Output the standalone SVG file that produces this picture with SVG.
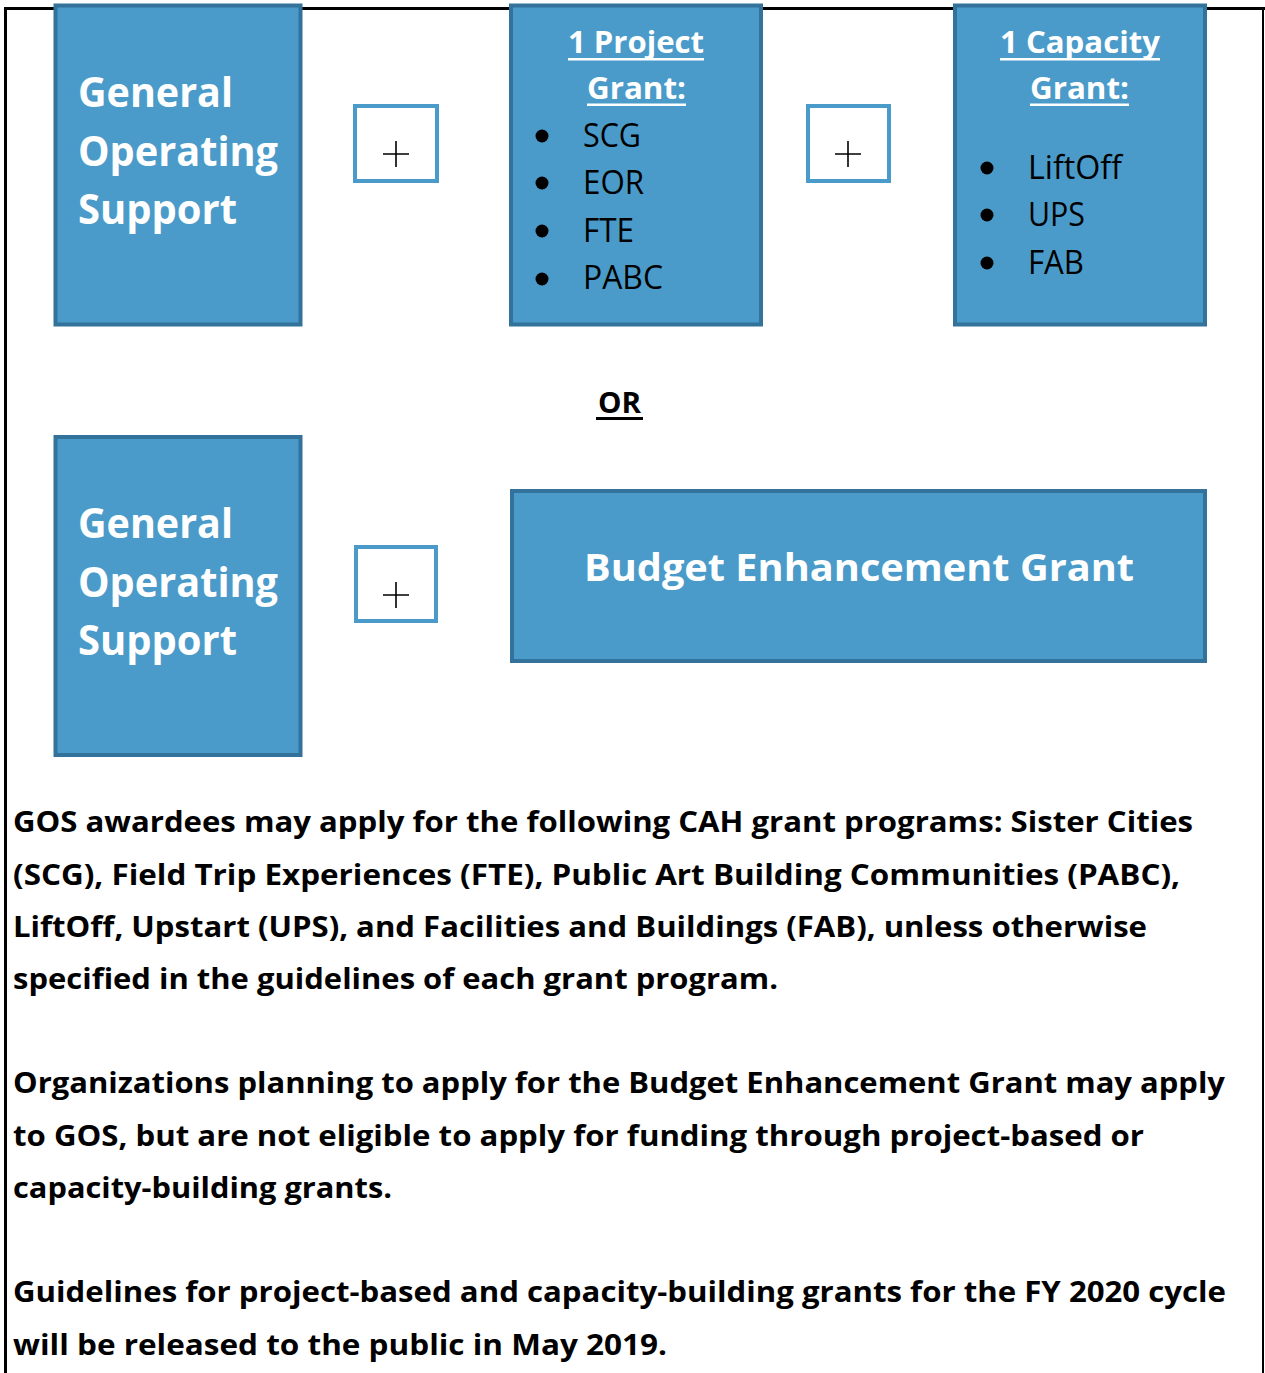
<svg xmlns="http://www.w3.org/2000/svg" width="1265" height="1373" viewBox="0 0 1265 1373">
<style>
.box{fill:#4A9BC9;stroke:#33729A;stroke-width:4}
.plusbox{fill:#ffffff;stroke:#4A9BC9;stroke-width:4}
.plus{stroke:#000;stroke-width:1.6;fill:none}
.frame{stroke:#000;fill:none}
.big{font-family:'Open Sans','Liberation Sans',sans-serif;font-weight:700;font-size:42px;fill:#fff}
.title{font-family:'Open Sans','Liberation Sans',sans-serif;font-weight:700;font-size:30px;fill:#fff}
.item{font-family:'Open Sans','Liberation Sans',sans-serif;font-weight:400;font-size:33px;fill:#000}
.beg{font-family:'Open Sans','Liberation Sans',sans-serif;font-weight:700;font-size:38px;fill:#fff}
.para{font-family:'Open Sans','Liberation Sans',sans-serif;font-weight:700;font-size:29px;fill:#000}
.ul{fill:#fff}
</style>
<rect width="1265" height="1373" fill="#fff"/>
<g id="frame">
<line class="frame" x1="4" y1="8.5" x2="1265" y2="8.5" stroke-width="3"/>
<line class="frame" x1="5.5" y1="7" x2="5.5" y2="1373" stroke-width="3"/>
<line class="frame" x1="1263" y1="7" x2="1263" y2="1373" stroke-width="2"/>
</g>
<g id="connectors"></g>
<g id="gos-top">
<rect class="box" x="55.5" y="5.5" width="245" height="319"/>
<text class="big" x="78" y="107" textLength="155" lengthAdjust="spacingAndGlyphs">General</text>
<text class="big" x="78" y="166" textLength="200" lengthAdjust="spacingAndGlyphs">Operating</text>
<text class="big" x="78" y="224" textLength="159" lengthAdjust="spacingAndGlyphs">Support</text>
</g>
<g id="plus-1">
<rect class="plusbox" x="355" y="106" width="82" height="75"/>
<path class="plus" d="M383 154H409M396 141V167"/>
</g>
<g id="project-grant">
<rect class="box" x="511" y="5.5" width="250" height="319"/>
<text class="title" x="568" y="53" textLength="136" lengthAdjust="spacingAndGlyphs">1 Project</text>
<rect class="ul" x="568" y="58" width="136" height="2.5"/>
<text class="title" x="587" y="99" textLength="99" lengthAdjust="spacingAndGlyphs">Grant:</text>
<rect class="ul" x="587" y="103.5" width="99" height="2.5"/>
<circle cx="542" cy="136" r="6.5"/>
<circle cx="542" cy="183" r="6.5"/>
<circle cx="542" cy="231" r="6.5"/>
<circle cx="542" cy="279" r="6.5"/>
<text class="item" x="583" y="147" textLength="58" lengthAdjust="spacingAndGlyphs">SCG</text>
<text class="item" x="583" y="194" textLength="61" lengthAdjust="spacingAndGlyphs">EOR</text>
<text class="item" x="583" y="242" textLength="51" lengthAdjust="spacingAndGlyphs">FTE</text>
<text class="item" x="583" y="289" textLength="80" lengthAdjust="spacingAndGlyphs">PABC</text>
</g>
<g id="plus-2">
<rect class="plusbox" x="808" y="106" width="81" height="75"/>
<path class="plus" d="M835 154H861M848 141V167"/>
</g>
<g id="capacity-grant">
<rect class="box" x="955" y="5.5" width="250" height="319"/>
<text class="title" x="1000" y="53" textLength="160" lengthAdjust="spacingAndGlyphs">1 Capacity</text>
<rect class="ul" x="1000" y="58" width="160" height="2.5"/>
<text class="title" x="1030" y="99" textLength="99" lengthAdjust="spacingAndGlyphs">Grant:</text>
<rect class="ul" x="1030" y="103.5" width="99" height="2.5"/>
<circle cx="987" cy="168" r="6.5"/>
<circle cx="987" cy="215" r="6.5"/>
<circle cx="987" cy="263" r="6.5"/>
<text class="item" x="1028" y="179" textLength="94" lengthAdjust="spacingAndGlyphs">LiftOff</text>
<text class="item" x="1028" y="226" textLength="57" lengthAdjust="spacingAndGlyphs">UPS</text>
<text class="item" x="1028" y="274" textLength="56" lengthAdjust="spacingAndGlyphs">FAB</text>
</g>
<g id="or-label">
<text class="para" x="598" y="413" textLength="43" lengthAdjust="spacingAndGlyphs">OR</text>
<rect x="596" y="417" width="47" height="3" fill="#000"/>
</g>
<g id="gos-bottom">
<rect class="box" x="55.5" y="437" width="245" height="318"/>
<text class="big" x="78" y="538" textLength="155" lengthAdjust="spacingAndGlyphs">General</text>
<text class="big" x="78" y="597" textLength="200" lengthAdjust="spacingAndGlyphs">Operating</text>
<text class="big" x="78" y="655" textLength="159" lengthAdjust="spacingAndGlyphs">Support</text>
</g>
<g id="plus-3">
<rect class="plusbox" x="356" y="547" width="80" height="74"/>
<path class="plus" d="M383 595H409M396 582V608"/>
</g>
<g id="budget-enhancement">
<rect class="box" x="512" y="491" width="693" height="170"/>
<text class="beg" x="584" y="581" textLength="550" lengthAdjust="spacingAndGlyphs">Budget Enhancement Grant</text>
</g>
<g id="notes">
<text class="para" x="13" y="832" textLength="1180" lengthAdjust="spacingAndGlyphs">GOS awardees may apply for the following CAH grant programs: Sister Cities</text>
<text class="para" x="13" y="884.5" textLength="1167" lengthAdjust="spacingAndGlyphs">(SCG), Field Trip Experiences (FTE), Public Art Building Communities (PABC),</text>
<text class="para" x="13" y="937" textLength="1134" lengthAdjust="spacingAndGlyphs">LiftOff, Upstart (UPS), and Facilities and Buildings (FAB), unless otherwise</text>
<text class="para" x="13" y="989" textLength="765" lengthAdjust="spacingAndGlyphs">specified in the guidelines of each grant program.</text>
<text class="para" x="13" y="1093" textLength="1212" lengthAdjust="spacingAndGlyphs">Organizations planning to apply for the Budget Enhancement Grant may apply</text>
<text class="para" x="13" y="1145.5" textLength="1131" lengthAdjust="spacingAndGlyphs">to GOS, but are not eligible to apply for funding through project-based or</text>
<text class="para" x="13" y="1198" textLength="379" lengthAdjust="spacingAndGlyphs">capacity-building grants.</text>
<text class="para" x="13" y="1302" textLength="1213" lengthAdjust="spacingAndGlyphs">Guidelines for project-based and capacity-building grants for the FY 2020 cycle</text>
<text class="para" x="13" y="1354.5" textLength="654" lengthAdjust="spacingAndGlyphs">will be released to the public in May 2019.</text>
</g>
</svg>
